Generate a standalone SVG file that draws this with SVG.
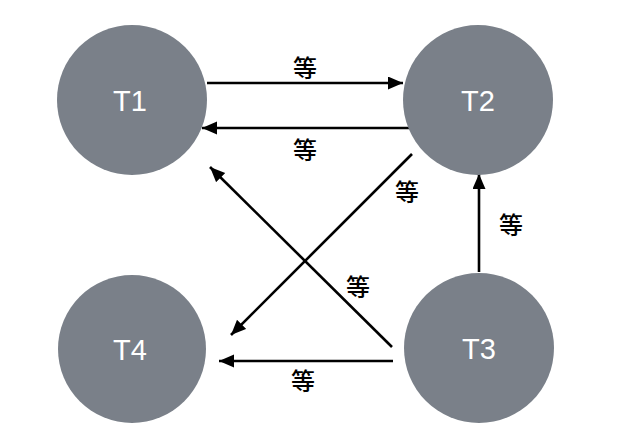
<svg xmlns="http://www.w3.org/2000/svg" width="629" height="437" viewBox="0 0 629 437">
<style>
.node{fill:#7a8089}
.nl{fill:#ffffff;font-family:"Liberation Sans",Arial,sans-serif;font-size:29px;text-anchor:middle;dominant-baseline:central}
.edge{stroke:#000;stroke-width:2.6;fill:none;marker-end:url(#ah)}
.el{fill:#000;font-family:"Noto Sans CJK SC",sans-serif;font-size:24px;font-weight:500;text-anchor:middle;dominant-baseline:central}
</style>
<defs>
<marker id="ah" markerUnits="userSpaceOnUse" markerWidth="16" markerHeight="14" refX="15" refY="6.5" orient="auto">
<path d="M0,0 L15,6.5 L0,13 z" fill="#000"/>
</marker>
</defs>
<rect width="629" height="437" fill="#fff"/>
<g id="edges">
<line class="edge" x1="207" y1="83" x2="403" y2="83"/>
<line class="edge" x1="412" y1="128" x2="202" y2="128"/>
<line class="edge" x1="412" y1="154" x2="231" y2="335"/>
<line class="edge" x1="392" y1="347" x2="210" y2="167"/>
<line class="edge" x1="479" y1="272" x2="479" y2="174"/>
<line class="edge" x1="393" y1="361" x2="219" y2="361"/>
<text class="el" x="305" y="66">等</text>
<text class="el" x="305" y="148">等</text>
<text class="el" x="407" y="190">等</text>
<text class="el" x="358" y="285">等</text>
<text class="el" x="511" y="223">等</text>
<text class="el" x="303" y="379">等</text>
</g>
<g id="T1"><circle class="node" cx="132" cy="100" r="75"/><text class="nl" x="130" y="101">T1</text></g>
<g id="T2"><circle class="node" cx="478" cy="100" r="75"/><text class="nl" x="478" y="101">T2</text></g>
<g id="T4"><circle class="node" cx="132" cy="349" r="74"/><text class="nl" x="130" y="350">T4</text></g>
<g id="T3"><circle class="node" cx="479" cy="348" r="75"/><text class="nl" x="479" y="349">T3</text></g>
</svg>
